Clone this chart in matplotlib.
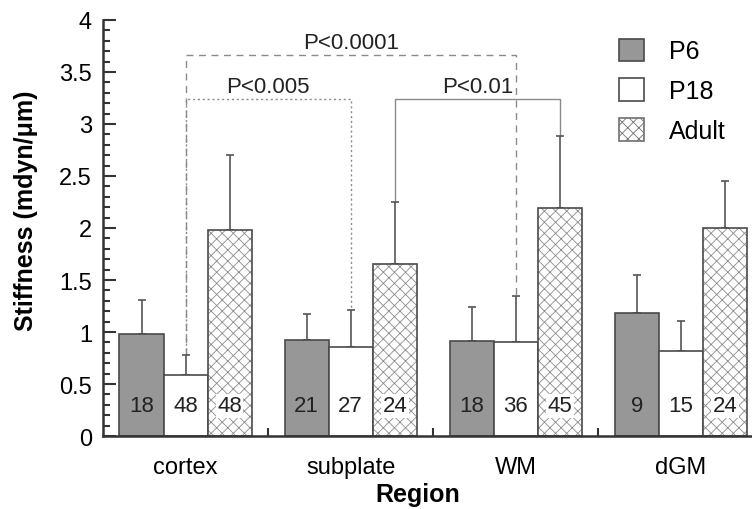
import numpy as np
import matplotlib
matplotlib.use("Agg")
import matplotlib.pyplot as plt
from matplotlib.patches import Patch
from matplotlib.ticker import MultipleLocator

plt.rcParams['font.family'] = ['Liberation Sans', 'DejaVu Sans']
plt.rcParams['hatch.linewidth'] = 0.6

regions = ["cortex", "subplate", "WM", "dGM"]
groups = ["P6", "P18", "Adult"]
means = {
    "P6":    [0.98, 0.92, 0.91, 1.18],
    "P18":   [0.59, 0.86, 0.90, 0.82],
    "Adult": [1.98, 1.65, 2.19, 2.00],
}
err_top = {
    "P6":    [1.31, 1.17, 1.24, 1.55],
    "P18":   [0.78, 1.21, 1.35, 1.11],
    "Adult": [2.70, 2.25, 2.88, 2.45],
}
counts = {
    "P6":    [18, 21, 18, 9],
    "P18":   [48, 27, 36, 15],
    "Adult": [48, 24, 45, 24],
}
# (label, group/region of left leg, group/region of right leg, height, style)
brackets = [
    ("P<0.0001", ("P18", 0), ("P18", 2), 3.66, (0, (5, 4))),
    ("P<0.005", ("P18", 0), ("P18", 1), 3.24, (0, (1.5, 2))),
    ("P<0.01", ("Adult", 1), ("Adult", 2), 3.24, "-"),
]

width = 0.267
offsets = {"P6": -width, "P18": 0.0, "Adult": width}
fills = {"P6": "#979797", "P18": "white", "Adult": "white"}
hatches = {"P6": None, "P18": None, "Adult": "xxx"}
edge = "#4a4a4a"
hatch_col = "#8c8c8c"

fig = plt.figure(figsize=(7.52, 5.10), dpi=100)
ax = fig.add_axes([0.137, 0.143, 0.863, 0.816])
x = np.arange(len(regions))

for g in groups:
    pos = x + offsets[g]
    m = np.array(means[g])
    if hatches[g]:
        # lighter hatch first, then the dark outline on top
        ax.bar(pos, m, width, color=fills[g], edgecolor=hatch_col,
               linewidth=0, hatch=hatches[g], zorder=2)
        ax.bar(pos, m, width, fill=False, edgecolor=edge, linewidth=1.2,
               zorder=2.5)
    else:
        ax.bar(pos, m, width, color=fills[g], edgecolor=edge, linewidth=1.2,
               zorder=2)
    ax.errorbar(pos, m, yerr=[np.zeros_like(m), np.array(err_top[g]) - m],
                fmt="none", ecolor="#555555", elinewidth=1.2, capsize=3,
                capthick=1.2, zorder=1)
    for xi, n in zip(pos, counts[g]):
        bbox = None
        if fills[g] == "white":
            bbox = dict(facecolor="white", edgecolor="none", pad=1)
        ax.text(xi, 0.29, str(n), ha="center", va="center", fontsize=16,
                color="#222222", zorder=3, bbox=bbox)

for label, (g1, r1), (g2, r2), h, ls in brackets:
    x1 = r1 + offsets[g1]
    x2 = r2 + offsets[g2]
    y1 = err_top[g1][r1]
    y2 = err_top[g2][r2]
    ax.plot([x1, x1, x2, x2], [y1, h, h, y2], color="#8a8a8a", lw=1.0,
            linestyle=ls, zorder=0)
    ax.text((x1 + x2) / 2, h + 0.02, label, ha="center", va="bottom",
            fontsize=16, color="#222222")

ax.set_xlim(-0.5, 3.43)
ax.set_ylim(0, 4)
ax.set_xticks(x)
ax.set_xticklabels(regions, fontsize=17)
ax.set_xticks(x[:-1] + 0.5, minor=True)
ax.tick_params(axis="x", which="major", length=0, pad=14)
ax.tick_params(axis="x", which="minor", direction="in", length=6, width=1.5,
               color="#333333")
ax.yaxis.set_minor_locator(MultipleLocator(0.1))
ax.set_yticks(np.arange(0, 4.01, 0.5))
ax.set_yticklabels(["0", "0.5", "1", "1.5", "2", "2.5", "3", "3.5", "4"],
                   fontsize=17)
ax.tick_params(axis="y", which="major", direction="in", length=9, width=1.5,
               color="#333333", pad=8)
ax.tick_params(axis="y", which="minor", direction="in", length=5, width=1.5,
               color="#333333")
for s in ["top", "right"]:
    ax.spines[s].set_visible(False)
for s in ["left", "bottom"]:
    ax.spines[s].set_linewidth(1.8)
    ax.spines[s].set_color("#333333")

ax.set_xlabel("Region", fontsize=18, fontweight="bold")
ax.xaxis.set_label_coords(0.485, -0.11)
ax.set_ylabel("Stiffness (mdyn/\u03bcm)", fontsize=18, fontweight="bold")
ax.yaxis.set_label_coords(-0.10, 0.545)

handles = []
for g in groups:
    handles.append(Patch(facecolor=fills[g], edgecolor=edge if not hatches[g] else "#707070",
                         hatch=hatches[g], lw=1.2))
ax.legend(handles, groups, loc="upper left", bbox_to_anchor=(0.795, 0.955),
          frameon=False, fontsize=18, handlelength=1.0, handleheight=1.0,
          labelspacing=0.6, handletextpad=1.0, borderaxespad=0, borderpad=0)

fig.savefig("out.png", dpi=100)
